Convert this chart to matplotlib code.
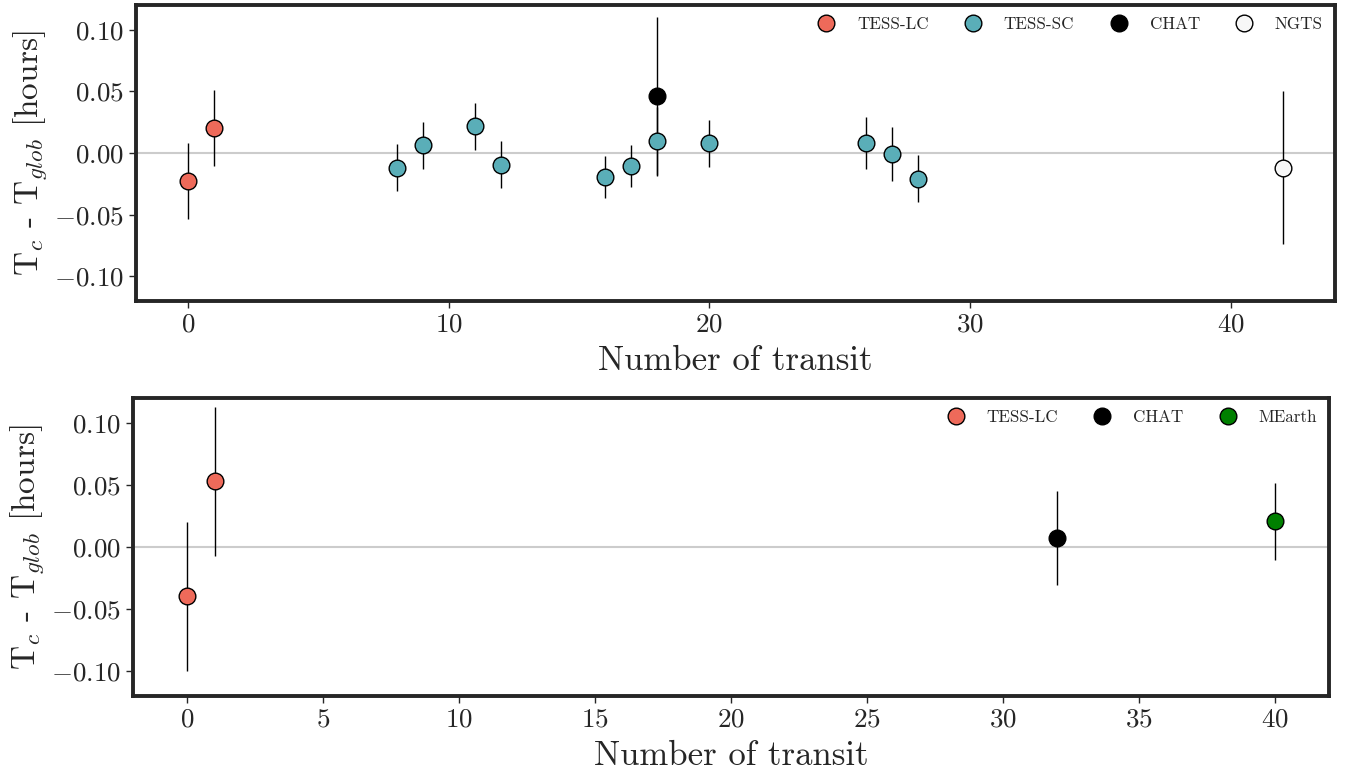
import matplotlib
matplotlib.use("Agg")
import matplotlib.pyplot as plt
from matplotlib.lines import Line2D

plt.rcParams["font.family"] = ["cmr10", "DejaVu Serif"]
plt.rcParams["mathtext.fontset"] = "cm"
plt.rcParams["axes.formatter.use_mathtext"] = True
plt.rcParams["axes.unicode_minus"] = True

# ---- Upper panel: transit timing residuals ----
top_series = {
    "TESS-LC": dict(
        epoch=[0, 1],
        resid=[-0.0226, 0.0203],
        err=[0.031, 0.031],
        color="#EE6A5A",
    ),
    "TESS-SC": dict(
        epoch=[8, 9, 11, 12, 16, 17, 18, 20, 26, 27, 28],
        resid=[-0.0120, 0.0062, 0.0218, -0.0094, -0.0196, -0.0105, 0.0094, 0.0078, 0.0080, -0.0010, -0.0210],
        err=[0.019, 0.019, 0.019, 0.019, 0.017, 0.017, 0.028, 0.019, 0.021, 0.022, 0.019],
        color="#5AAEB8",
    ),
    "CHAT": dict(
        epoch=[18],
        resid=[0.0460],
        err=[0.064],
        color="#000000",
    ),
    "NGTS": dict(
        epoch=[42],
        resid=[-0.0120],
        err=[0.062],
        color="#F7F7F7",
    ),
}

# ---- Lower panel ----
bottom_series = {
    "TESS-LC": dict(
        epoch=[0, 1],
        resid=[-0.0395, 0.0530],
        err=[0.060, 0.060],
        color="#EE6A5A",
    ),
    "CHAT": dict(
        epoch=[32],
        resid=[0.0070],
        err=[0.038],
        color="#000000",
    ),
    "MEarth": dict(
        epoch=[40],
        resid=[0.0207],
        err=[0.031],
        color="#008000",
    ),
}

yticks = [-0.10, -0.05, 0.00, 0.05, 0.10]

fig = plt.figure(figsize=(13.45, 7.70), dpi=100)
ax1 = fig.add_axes([0.1011, 0.6091, 0.8914, 0.3844])
ax2 = fig.add_axes([0.0989, 0.0961, 0.8892, 0.3870])


def draw_panel(ax, series, xlim, xticks):
    ax.axhline(0.0, color="#cccccc", lw=1.5, zorder=1)
    handles = []
    for name, s in series.items():
        ax.errorbar(s["epoch"], s["resid"], yerr=s["err"], fmt="none",
                    ecolor="black", elinewidth=1.0, capsize=0, zorder=2)
    for name, s in series.items():
        ax.plot(s["epoch"], s["resid"], "o", ms=12, mfc=s["color"],
                mec="black", mew=1.0, ls="none", zorder=3)
        handles.append(Line2D([], [], marker="o", ls="none", ms=12,
                              mfc=s["color"], mec="black", mew=1.0,
                              label=name))
    ax.set_xlim(*xlim)
    ax.set_ylim(-0.12, 0.12)
    ax.set_xticks(xticks)
    ax.set_yticks(yticks)
    ax.tick_params(axis="both", direction="out", length=5, width=1,
                   color="#262626", labelsize=19.5, labelcolor="#262626")
    for sp in ax.spines.values():
        sp.set_linewidth(2.8)
        sp.set_color("#262626")
    ax.set_xlabel("Number of transit", fontsize=25, color="#262626", labelpad=6)
    ax.set_ylabel(r"T$_c$ - T$_{glob}$ [hours]", fontsize=24, color="#262626", labelpad=4)
    leg = ax.legend(handles=handles, loc="upper right", ncol=len(handles),
                    frameon=False, fontsize=12.3, handletextpad=0.8,
                    columnspacing=1.6, borderaxespad=0.3)
    for t in leg.get_texts():
        t.set_color("#262626")


draw_panel(ax1, top_series, (-2, 44), [0, 10, 20, 30, 40])
draw_panel(ax2, bottom_series, (-2, 42), [0, 5, 10, 15, 20, 25, 30, 35, 40])

fig.savefig("out.png", dpi=100)
